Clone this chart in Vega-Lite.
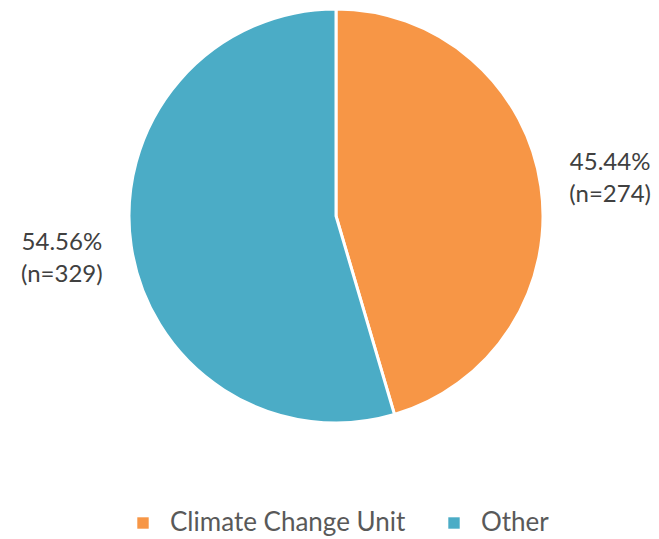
{
  "$schema": "https://vega.github.io/schema/vega-lite/v6.json",
  "width": 646,
  "height": 432,
  "padding": {"left": 13, "top": 0, "right": 0, "bottom": 0},
  "background": "white",
  "config": {"view": {"stroke": null}, "font": "Lato"},
  "data": {
    "values": [
      {"group": "Climate Change Unit", "pct": 45.44, "label": "45.44%\n(n=274)"},
      {"group": "Other", "pct": 54.56, "label": "54.56%\n(n=329)"}
    ]
  },
  "encoding": {
    "theta": {"field": "pct", "type": "quantitative", "stack": true},
    "color": {
      "field": "group",
      "type": "nominal",
      "scale": {"domain": ["Climate Change Unit", "Other"], "range": ["#F79646", "#4BACC6"]},
      "legend": {
        "title": null,
        "orient": "none",
        "direction": "horizontal",
        "legendX": 117,
        "legendY": 510,
        "symbolType": "square",
        "symbolSize": 130,
        "symbolStrokeWidth": 0,
        "labelFontSize": 26,
        "labelLimit": 500,
        "labelColor": "#595959",
        "labelFont": "Lato",
        "labelOffset": 14,
        "columnPadding": 35,
        "symbolOffset": 0
      }
    }
  },
  "layer": [
    {"mark": {"type": "arc", "outerRadius": 207, "stroke": "white", "strokeWidth": 3}},
    {
      "mark": {"type": "text", "radius": 277, "fontSize": 24, "lineBreak": "\n", "lineHeight": 32, "baseline": "middle", "align": "center", "dy": -13, "color": "#404040", "font": "Lato"},
      "encoding": {"text": {"field": "label"}, "color": {"value": "#404040"}}
    }
  ]
}
